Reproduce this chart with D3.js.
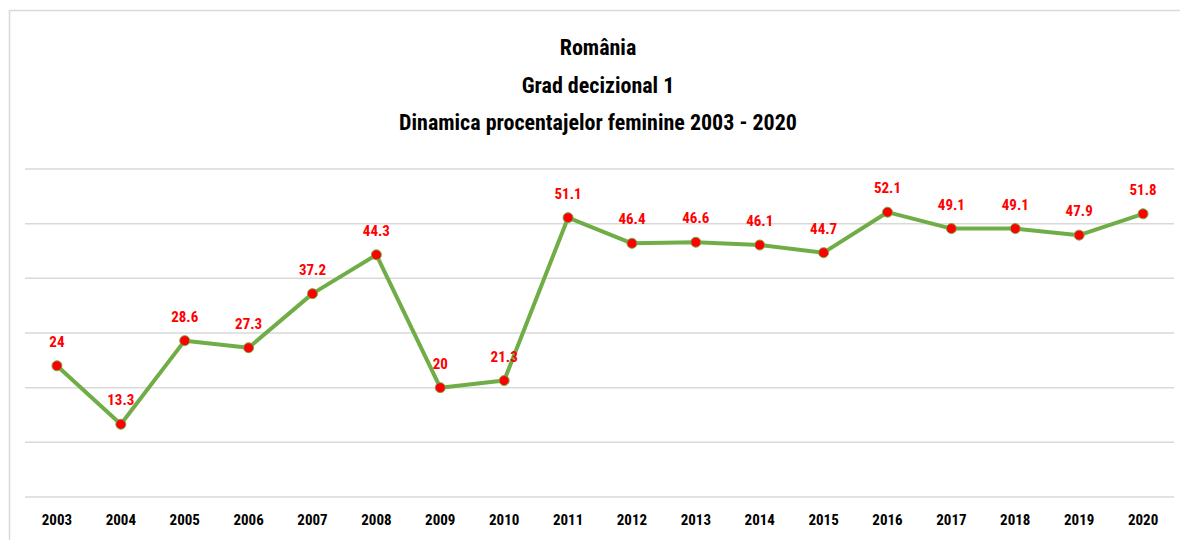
<!DOCTYPE html>
<html>
<head>
<meta charset="utf-8">
<script src="https://cdn.jsdelivr.net/npm/d3@7"></script>
<style>
  body { margin: 0; background: #fff; }
  svg text { font-family: "Liberation Sans Narrow", "Roboto Condensed", "DejaVu Sans Condensed", sans-serif; font-weight: bold; }
</style>
</head>
<body>
<div id="chart"></div>
<script>
// chart data
var years = ["2003","2004","2005","2006","2007","2008","2009","2010","2011",
             "2012","2013","2014","2015","2016","2017","2018","2019","2020"];
var values = [24, 13.3, 28.6, 27.3, 37.2, 44.3, 20, 21.3, 51.1,
              46.4, 46.6, 46.1, 44.7, 52.1, 49.1, 49.1, 47.9, 51.8];
var gridTicks = [0, 10, 20, 30, 40, 50, 60];
var titleLines = ["România", "Grad decizional 1", "Dinamica procentajelor feminine 2003 - 2020"];

var W = 1180, H = 540;
var plotLeft = 25, plotRight = 1175, plotTop = 169, plotBottom = 497;

var svg = d3.select("#chart").append("svg")
    .attr("width", W)
    .attr("height", H);

// outer frame
svg.append("rect")
    .attr("x", 9.5).attr("y", 10.5)
    .attr("width", W + 20).attr("height", H + 20)
    .attr("fill", "none")
    .attr("stroke", "#d9d9d9")
    .attr("stroke-width", 1.5);

var x = d3.scaleBand().domain(years).range([plotLeft, plotRight]);
var y = d3.scaleLinear().domain([0, 60]).range([plotBottom, plotTop]);

// gridlines
svg.append("g").selectAll("line")
    .data(gridTicks).enter().append("line")
    .attr("x1", plotLeft).attr("x2", plotRight - 1)
    .attr("y1", function(d){ return y(d); })
    .attr("y2", function(d){ return y(d); })
    .attr("stroke", "#d9d9d9")
    .attr("stroke-width", 1.5);

// x axis labels
var xAxis = d3.axisBottom(x).tickSize(0).tickPadding(0);
var gx = svg.append("g")
    .attr("transform", "translate(0," + (plotBottom + 20) + ")")
    .call(xAxis);
gx.select(".domain").remove();
gx.selectAll("text")
    .attr("dy", "0.5em")
    .style("font-size", "15px")
    .attr("fill", "#000");

// title
svg.append("g").selectAll("text")
    .data(titleLines).enter().append("text")
    .attr("x", 598)
    .attr("y", function(d, i){ return 55 + i * 37.5; })
    .attr("text-anchor", "middle")
    .style("font-size", "22px")
    .attr("fill", "#000")
    .text(function(d){ return d; });

var pts = values.map(function(v, i){ return {year: years[i], v: v}; });
var cx = function(d){ return x(d.year) + x.bandwidth() / 2; };

// line
var line = d3.line()
    .x(cx)
    .y(function(d){ return y(d.v); });

svg.append("path")
    .datum(pts)
    .attr("d", line)
    .attr("fill", "none")
    .attr("stroke", "#70ad47")
    .attr("stroke-width", 4)
    .attr("stroke-linejoin", "round");

// markers
svg.append("g").selectAll("circle")
    .data(pts).enter().append("circle")
    .attr("cx", cx)
    .attr("cy", function(d){ return y(d.v); })
    .attr("r", 5)
    .attr("fill", "#ff0000")
    .attr("stroke", "#70ad47")
    .attr("stroke-width", 1);

// data labels
svg.append("g").selectAll("text")
    .data(pts).enter().append("text")
    .attr("x", cx)
    .attr("y", function(d){ return y(d.v) - 19; })
    .attr("text-anchor", "middle")
    .style("font-size", "15px")
    .attr("fill", "#ff0000")
    .text(function(d){ return d.v; });
</script>
</body>
</html>
